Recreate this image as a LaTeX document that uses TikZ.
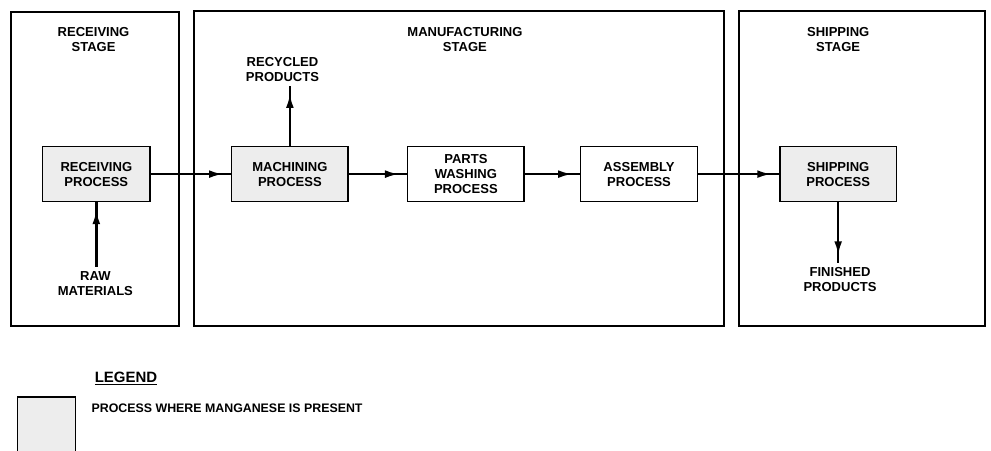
\documentclass[tikz,border=0pt]{standalone}
\usepackage{fontspec}
\setsansfont{Liberation Sans}
\usetikzlibrary{arrows.meta,positioning,decorations.markings}

\begin{document}
\begin{tikzpicture}[
  x=0.025cm, y=-0.025cm,
  every node/.style={font=\sffamily\bfseries\fontsize{10}{11.5}\selectfont, align=center},
  stage/.style={draw, line width=1.5pt},
  proc/.style={draw, line width=1.2pt, minimum width=3.15cm, minimum height=1.48cm, inner sep=0},
  shaded/.style={fill=black!7},
  flow/.style={line width=2pt,
    decoration={markings, mark=at position -2mm with {\arrow{Latex[length=11pt,width=6pt]}}},
    postaction={decorate}},
]
\useasboundingbox (0,0) rectangle (1070,486);

%% stage frames
\draw[stage] (12,13) rectangle (193,352);
\draw[stage] (209,12) rectangle (782,352);
\draw[stage] (798,12) rectangle (1064,352);

\node (recvstage) at (101,43) {RECEIVING\\STAGE};
\node (mfgstage)  at (502,43) {MANUFACTURING\\STAGE};
\node (shipstage) at (905,43) {SHIPPING\\STAGE};

%% processes
\node[proc, shaded, minimum width=2.9cm] (recv) at (104,188) {RECEIVING\\PROCESS};
\node[proc, shaded] (mach) at (313,188) {MACHINING\\PROCESS};
\node[proc] (wash) at (503,188) {PARTS\\WASHING\\PROCESS};
\node[proc] (asm)  at (690,188) {ASSEMBLY\\PROCESS};
\node[proc, shaded] (ship) at (905,188) {SHIPPING\\PROCESS};

%% inputs and outputs
\node (recyc) at (305,75)  {RECYCLED\\PRODUCTS};
\node (raw)   at (103,306) {RAW\\MATERIALS};
\node (fin)   at (907,302) {FINISHED\\PRODUCTS};

\draw[flow] (recv) -- (mach);
\draw[flow] (mach) -- (wash);
\draw[flow] (wash) -- (asm);
\draw[flow] (asm) -- (ship);
\draw[flow] (mach.north) -- (mach.north |- recyc.south);
\draw[flow] (recv.south |- raw.north) -- (recv.south);
\draw[flow] (ship.south) -- (ship.south |- fin.north);

%% legend
\node (legtitle) at (136,409) {\fontsize{11.5}{13}\selectfont\underline{LEGEND}};
\node[draw, line width=1pt, shaded, anchor=north west, minimum width=1.575cm, minimum height=2cm] (legbox) at (18,428) {};
\node[anchor=west, font=\sffamily\bfseries\fontsize{9.5}{11}\selectfont] (legtext) at (94,441) {PROCESS WHERE MANGANESE IS PRESENT};
\end{tikzpicture}
\end{document}
